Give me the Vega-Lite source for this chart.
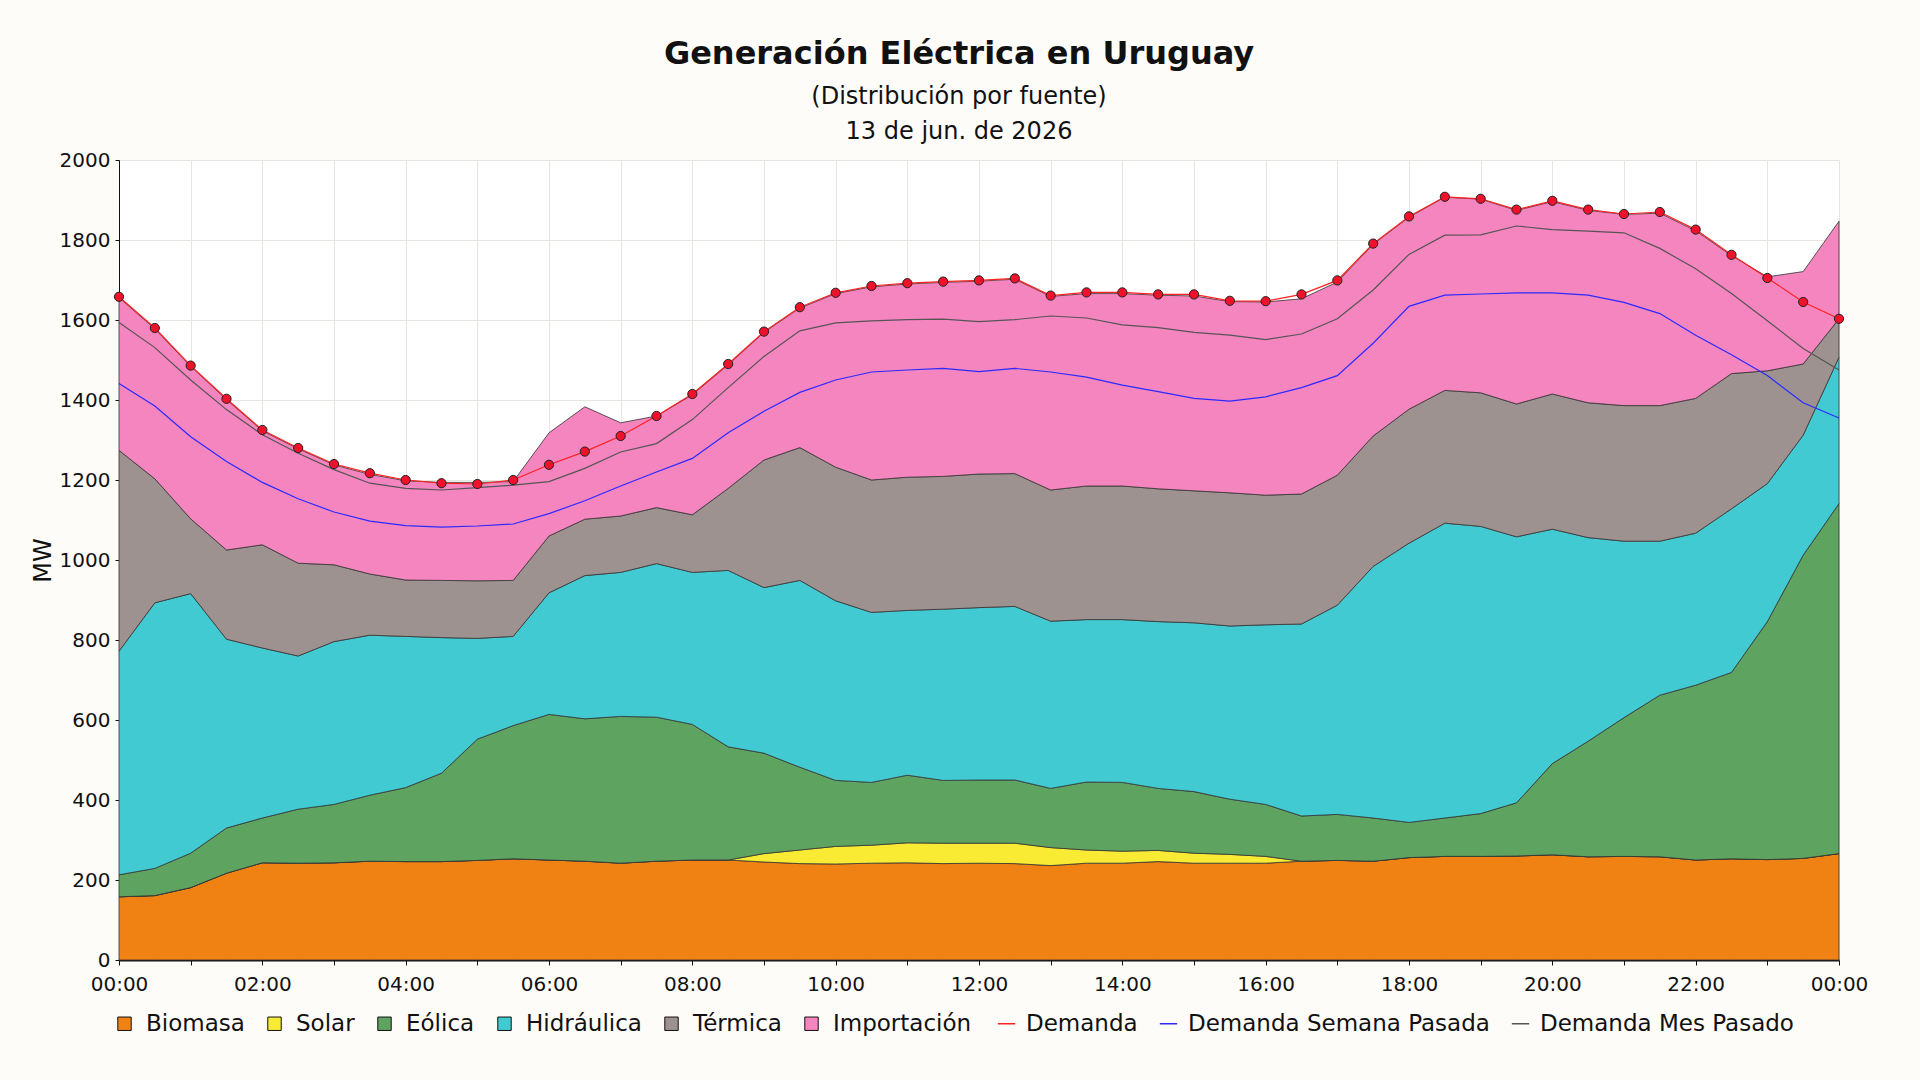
{
  "$schema": "https://vega.github.io/schema/vega-lite/v6.json",
  "background": "#fdfcf8",
  "autosize": {"type": "none"},
  "padding": {"left": 119, "top": 160, "right": 81, "bottom": 120},
  "width": 1720,
  "height": 800,
  "title": {
    "text": "Generación Eléctrica en Uruguay",
    "subtitle": ["(Distribución por fuente)", "13 de jun. de 2026"],
    "font": "DejaVu Sans",
    "fontSize": 32,
    "fontWeight": "bold",
    "color": "#111111",
    "subtitleFont": "DejaVu Sans",
    "subtitleFontSize": 24,
    "subtitleLineHeight": 35,
    "subtitleColor": "#111111",
    "subtitlePadding": 14,
    "anchor": "middle",
    "dx": -20,
    "offset": 5
  },
  "config": {
    "font": "DejaVu Sans",
    "view": {"fill": "#ffffff", "stroke": null},
    "axis": {
      "labelFont": "DejaVu Sans",
      "labelFontSize": 20,
      "labelColor": "#111111",
      "titleFont": "DejaVu Sans",
      "titleColor": "#111111",
      "domainColor": "#111111",
      "tickColor": "#111111",
      "gridColor": "#e6e6e1",
      "gridWidth": 1,
      "labelFlush": false,
      "labelOverlap": false
    }
  },
  "data": {
    "values": [
      {"t": "2026-06-13T00:00", "Biomasa": 158, "Solar": 0, "Eólica": 55, "Hidráulica": 559, "Térmica": 502, "Importación": 382, "Demanda": 1658, "Semana": 1441, "Mes": 1594},
      {"t": "2026-06-13T00:30", "Biomasa": 161, "Solar": 0, "Eólica": 68, "Hidráulica": 664, "Térmica": 310, "Importación": 375, "Demanda": 1580, "Semana": 1385, "Mes": 1531},
      {"t": "2026-06-13T01:00", "Biomasa": 181, "Solar": 0, "Eólica": 86, "Hidráulica": 649, "Térmica": 187, "Importación": 381, "Demanda": 1486, "Semana": 1308, "Mes": 1450},
      {"t": "2026-06-13T01:30", "Biomasa": 217, "Solar": 0, "Eólica": 113, "Hidráulica": 472, "Térmica": 223, "Importación": 376, "Demanda": 1403, "Semana": 1246, "Mes": 1376},
      {"t": "2026-06-13T02:00", "Biomasa": 243, "Solar": 0, "Eólica": 112, "Hidráulica": 425, "Térmica": 258, "Importación": 285, "Demanda": 1325, "Semana": 1194, "Mes": 1313},
      {"t": "2026-06-13T02:30", "Biomasa": 242, "Solar": 0, "Eólica": 135, "Hidráulica": 383, "Térmica": 232, "Importación": 286, "Demanda": 1280, "Semana": 1153, "Mes": 1267},
      {"t": "2026-06-13T03:00", "Biomasa": 243, "Solar": 0, "Eólica": 146, "Hidráulica": 407, "Térmica": 192, "Importación": 250, "Demanda": 1240, "Semana": 1120, "Mes": 1226},
      {"t": "2026-06-13T03:30", "Biomasa": 247, "Solar": 0, "Eólica": 165, "Hidráulica": 400, "Térmica": 153, "Importación": 249, "Demanda": 1217, "Semana": 1097, "Mes": 1192},
      {"t": "2026-06-13T04:00", "Biomasa": 246, "Solar": 0, "Eólica": 185, "Hidráulica": 378, "Térmica": 141, "Importación": 248, "Demanda": 1200, "Semana": 1086, "Mes": 1179},
      {"t": "2026-06-13T04:30", "Biomasa": 246, "Solar": 0, "Eólica": 221, "Hidráulica": 339, "Térmica": 143, "Importación": 245, "Demanda": 1192, "Semana": 1082, "Mes": 1175},
      {"t": "2026-06-13T05:00", "Biomasa": 249, "Solar": 0, "Eólica": 303, "Hidráulica": 252, "Térmica": 144, "Importación": 246, "Demanda": 1190, "Semana": 1085, "Mes": 1181},
      {"t": "2026-06-13T05:30", "Biomasa": 253, "Solar": 0, "Eólica": 333, "Hidráulica": 223, "Térmica": 140, "Importación": 247, "Demanda": 1200, "Semana": 1090, "Mes": 1187},
      {"t": "2026-06-13T06:00", "Biomasa": 250, "Solar": 0, "Eólica": 364, "Hidráulica": 304, "Térmica": 142, "Importación": 258, "Demanda": 1238, "Semana": 1116, "Mes": 1196},
      {"t": "2026-06-13T06:30", "Biomasa": 247, "Solar": 0, "Eólica": 356, "Hidráulica": 358, "Térmica": 141, "Importación": 281, "Demanda": 1271, "Semana": 1148, "Mes": 1229},
      {"t": "2026-06-13T07:00", "Biomasa": 242, "Solar": 0, "Eólica": 367, "Hidráulica": 360, "Térmica": 141, "Importación": 233, "Demanda": 1310, "Semana": 1185, "Mes": 1270},
      {"t": "2026-06-13T07:30", "Biomasa": 247, "Solar": 0, "Eólica": 360, "Hidráulica": 384, "Térmica": 140, "Importación": 229, "Demanda": 1360, "Semana": 1220, "Mes": 1291},
      {"t": "2026-06-13T08:00", "Biomasa": 250, "Solar": 0, "Eólica": 339, "Hidráulica": 380, "Térmica": 144, "Importación": 300, "Demanda": 1415, "Semana": 1254, "Mes": 1351},
      {"t": "2026-06-13T08:30", "Biomasa": 250, "Solar": 0, "Eólica": 283, "Hidráulica": 441, "Térmica": 205, "Importación": 309, "Demanda": 1490, "Semana": 1318, "Mes": 1431},
      {"t": "2026-06-13T09:00", "Biomasa": 245, "Solar": 21, "Eólica": 251, "Hidráulica": 414, "Térmica": 319, "Importación": 319, "Demanda": 1571, "Semana": 1372, "Mes": 1509},
      {"t": "2026-06-13T09:30", "Biomasa": 241, "Solar": 34, "Eólica": 207, "Hidráulica": 467, "Térmica": 332, "Importación": 349, "Demanda": 1632, "Semana": 1419, "Mes": 1573},
      {"t": "2026-06-13T10:00", "Biomasa": 240, "Solar": 44, "Eólica": 165, "Hidráulica": 449, "Térmica": 334, "Importación": 434, "Demanda": 1668, "Semana": 1450, "Mes": 1593},
      {"t": "2026-06-13T10:30", "Biomasa": 242, "Solar": 45, "Eólica": 157, "Hidráulica": 425, "Térmica": 331, "Importación": 483, "Demanda": 1685, "Semana": 1470, "Mes": 1598},
      {"t": "2026-06-13T11:00", "Biomasa": 243, "Solar": 50, "Eólica": 169, "Hidráulica": 412, "Térmica": 333, "Importación": 483, "Demanda": 1692, "Semana": 1475, "Mes": 1601},
      {"t": "2026-06-13T11:30", "Biomasa": 241, "Solar": 51, "Eólica": 157, "Hidráulica": 428, "Térmica": 332, "Importación": 485, "Demanda": 1696, "Semana": 1479, "Mes": 1602},
      {"t": "2026-06-13T12:00", "Biomasa": 242, "Solar": 50, "Eólica": 158, "Hidráulica": 431, "Térmica": 334, "Importación": 482, "Demanda": 1699, "Semana": 1471, "Mes": 1596},
      {"t": "2026-06-13T12:30", "Biomasa": 241, "Solar": 51, "Eólica": 158, "Hidráulica": 434, "Térmica": 332, "Importación": 486, "Demanda": 1704, "Semana": 1479, "Mes": 1601},
      {"t": "2026-06-13T13:00", "Biomasa": 236, "Solar": 45, "Eólica": 148, "Hidráulica": 418, "Térmica": 328, "Importación": 484, "Demanda": 1661, "Semana": 1470, "Mes": 1610},
      {"t": "2026-06-13T13:30", "Biomasa": 242, "Solar": 33, "Eólica": 170, "Hidráulica": 406, "Térmica": 334, "Importación": 481, "Demanda": 1669, "Semana": 1457, "Mes": 1605},
      {"t": "2026-06-13T14:00", "Biomasa": 242, "Solar": 30, "Eólica": 172, "Hidráulica": 407, "Térmica": 334, "Importación": 481, "Demanda": 1669, "Semana": 1437, "Mes": 1588},
      {"t": "2026-06-13T14:30", "Biomasa": 246, "Solar": 28, "Eólica": 155, "Hidráulica": 417, "Térmica": 332, "Importación": 484, "Demanda": 1664, "Semana": 1421, "Mes": 1581},
      {"t": "2026-06-13T15:00", "Biomasa": 242, "Solar": 25, "Eólica": 154, "Hidráulica": 422, "Térmica": 330, "Importación": 487, "Demanda": 1664, "Semana": 1404, "Mes": 1569},
      {"t": "2026-06-13T15:30", "Biomasa": 242, "Solar": 22, "Eólica": 138, "Hidráulica": 433, "Térmica": 333, "Importación": 478, "Demanda": 1648, "Semana": 1397, "Mes": 1562},
      {"t": "2026-06-13T16:00", "Biomasa": 242, "Solar": 17, "Eólica": 130, "Hidráulica": 449, "Térmica": 324, "Importación": 483, "Demanda": 1647, "Semana": 1408, "Mes": 1551},
      {"t": "2026-06-13T16:30", "Biomasa": 247, "Solar": 0, "Eólica": 113, "Hidráulica": 480, "Térmica": 325, "Importación": 488, "Demanda": 1664, "Semana": 1431, "Mes": 1565},
      {"t": "2026-06-13T17:00", "Biomasa": 249, "Solar": 0, "Eólica": 115, "Hidráulica": 523, "Térmica": 325, "Importación": 483, "Demanda": 1699, "Semana": 1461, "Mes": 1603},
      {"t": "2026-06-13T17:30", "Biomasa": 247, "Solar": 0, "Eólica": 108, "Hidráulica": 629, "Térmica": 326, "Importación": 479, "Demanda": 1791, "Semana": 1542, "Mes": 1675},
      {"t": "2026-06-13T18:00", "Biomasa": 256, "Solar": 0, "Eólica": 88, "Hidráulica": 698, "Térmica": 335, "Importación": 480, "Demanda": 1859, "Semana": 1634, "Mes": 1764},
      {"t": "2026-06-13T18:30", "Biomasa": 259, "Solar": 0, "Eólica": 96, "Hidráulica": 737, "Térmica": 332, "Importación": 483, "Demanda": 1908, "Semana": 1662, "Mes": 1812},
      {"t": "2026-06-13T19:00", "Biomasa": 259, "Solar": 0, "Eólica": 107, "Hidráulica": 718, "Térmica": 334, "Importación": 484, "Demanda": 1903, "Semana": 1665, "Mes": 1813},
      {"t": "2026-06-13T19:30", "Biomasa": 260, "Solar": 0, "Eólica": 133, "Hidráulica": 665, "Térmica": 332, "Importación": 484, "Demanda": 1876, "Semana": 1668, "Mes": 1835},
      {"t": "2026-06-13T20:00", "Biomasa": 263, "Solar": 0, "Eólica": 228, "Hidráulica": 586, "Térmica": 338, "Importación": 481, "Demanda": 1898, "Semana": 1668, "Mes": 1826},
      {"t": "2026-06-13T20:30", "Biomasa": 258, "Solar": 0, "Eólica": 289, "Hidráulica": 509, "Térmica": 337, "Importación": 481, "Demanda": 1876, "Semana": 1662, "Mes": 1822},
      {"t": "2026-06-13T21:00", "Biomasa": 259, "Solar": 0, "Eólica": 347, "Hidráulica": 441, "Térmica": 339, "Importación": 478, "Demanda": 1865, "Semana": 1644, "Mes": 1818},
      {"t": "2026-06-13T21:30", "Biomasa": 258, "Solar": 0, "Eólica": 404, "Hidráulica": 385, "Térmica": 339, "Importación": 481, "Demanda": 1870, "Semana": 1616, "Mes": 1779},
      {"t": "2026-06-13T22:00", "Biomasa": 250, "Solar": 0, "Eólica": 437, "Hidráulica": 380, "Térmica": 337, "Importación": 419, "Demanda": 1826, "Semana": 1562, "Mes": 1728},
      {"t": "2026-06-13T22:30", "Biomasa": 253, "Solar": 0, "Eólica": 466, "Hidráulica": 409, "Térmica": 338, "Importación": 295, "Demanda": 1763, "Semana": 1513, "Mes": 1666},
      {"t": "2026-06-13T23:00", "Biomasa": 251, "Solar": 0, "Eólica": 595, "Hidráulica": 345, "Térmica": 282, "Importación": 235, "Demanda": 1705, "Semana": 1461, "Mes": 1598},
      {"t": "2026-06-13T23:30", "Biomasa": 254, "Solar": 0, "Eólica": 758, "Hidráulica": 300, "Térmica": 178, "Importación": 231, "Demanda": 1645, "Semana": 1393, "Mes": 1529},
      {"t": "2026-06-14T00:00", "Biomasa": 266, "Solar": 0, "Eólica": 875, "Hidráulica": 366, "Térmica": 96, "Importación": 244, "Demanda": 1603, "Semana": 1355, "Mes": 1475}
    ]
  },
  "encoding": {
    "x": {
      "field": "t",
      "type": "temporal",
      "scale": {"nice": false},
      "axis": {
        "title": null,
        "tickCount": 24,
        "labelExpr": "hours(datum.value) % 2 == 0 ? timeFormat(datum.value, '%H:%M') : ''",
        "tickSize": 5,
        "labelPadding": 9,
        "domainWidth": 2,
        "grid": true
      }
    }
  },
  "layer": [
    {
      "transform": [
        {"fold": ["Biomasa", "Solar", "Eólica", "Hidráulica", "Térmica", "Importación"], "as": ["fuente", "mw"]},
        {"calculate": "indexof(['Biomasa', 'Solar', 'Eólica', 'Hidráulica', 'Térmica', 'Importación'], datum.fuente)", "as": "orden"}
      ],
      "mark": {"type": "area", "stroke": "#333333", "strokeWidth": 0.8},
      "encoding": {
        "y": {
          "field": "mw",
          "type": "quantitative",
          "stack": "zero",
          "scale": {"domain": [0, 2000], "nice": false},
          "axis": {
            "title": "MW",
            "titleFontSize": 24,
            "titleFontWeight": "normal",
            "titlePadding": 4,
            "format": "d",
            "values": [0, 100, 200, 300, 400, 500, 600, 700, 800, 900, 1000, 1100, 1200, 1300, 1400, 1500, 1600, 1700, 1800, 1900, 2000],
            "labelExpr": "datum.value % 200 == 0 ? datum.label : ''",
            "tickSize": 4,
            "labelPadding": 5,
            "grid": true
          }
        },
        "order": {"field": "orden", "type": "quantitative"},
        "color": {
          "field": "fuente",
          "type": "nominal",
          "scale": {
            "domain": ["Biomasa", "Solar", "Eólica", "Hidráulica", "Térmica", "Importación"],
            "range": ["#f08214", "#f9ea34", "#5ea35f", "#42cad2", "#9d9290", "#f585bf"]
          },
          "legend": {
            "title": null,
            "orient": "none",
            "legendX": -6,
            "legendY": 852,
            "direction": "horizontal",
            "columns": 6,
            "labelFont": "DejaVu Sans",
            "labelFontSize": 23,
            "labelColor": "#111111",
            "labelLimit": 400,
            "symbolType": "square",
            "symbolSize": 180,
            "symbolStrokeColor": "#111111",
            "symbolStrokeWidth": 1,
            "columnPadding": 18,
            "labelOffset": 10
          }
        }
      }
    },
    {
      "transform": [
        {"fold": ["Demanda", "Semana", "Mes"], "as": ["serie", "mw"]},
        {"calculate": "datum.serie == 'Semana' ? 'Demanda Semana Pasada' : (datum.serie == 'Mes' ? 'Demanda Mes Pasado' : 'Demanda')", "as": "linea"}
      ],
      "mark": {"type": "line", "strokeWidth": 1.2},
      "encoding": {
        "y": {"field": "mw", "type": "quantitative"},
        "stroke": {
          "field": "linea",
          "type": "nominal",
          "scale": {
            "domain": ["Demanda", "Demanda Semana Pasada", "Demanda Mes Pasado"],
            "range": ["#ff2020", "#2a2aff", "#555555"]
          },
          "legend": {
            "title": null,
            "orient": "none",
            "legendX": 876,
            "legendY": 852,
            "direction": "horizontal",
            "columns": 3,
            "labelFont": "DejaVu Sans",
            "labelFontSize": 23,
            "labelColor": "#111111",
            "labelLimit": 400,
            "symbolType": "stroke",
            "symbolSize": 300,
            "symbolStrokeWidth": 1.5,
            "columnPadding": 18,
            "labelOffset": 8
          }
        }
      }
    },
    {
      "mark": {"type": "point", "filled": true, "fill": "#f0112b", "stroke": "#222222", "strokeWidth": 1, "size": 85, "opacity": 1},
      "encoding": {
        "y": {"field": "Demanda", "type": "quantitative"}
      }
    }
  ]
}
